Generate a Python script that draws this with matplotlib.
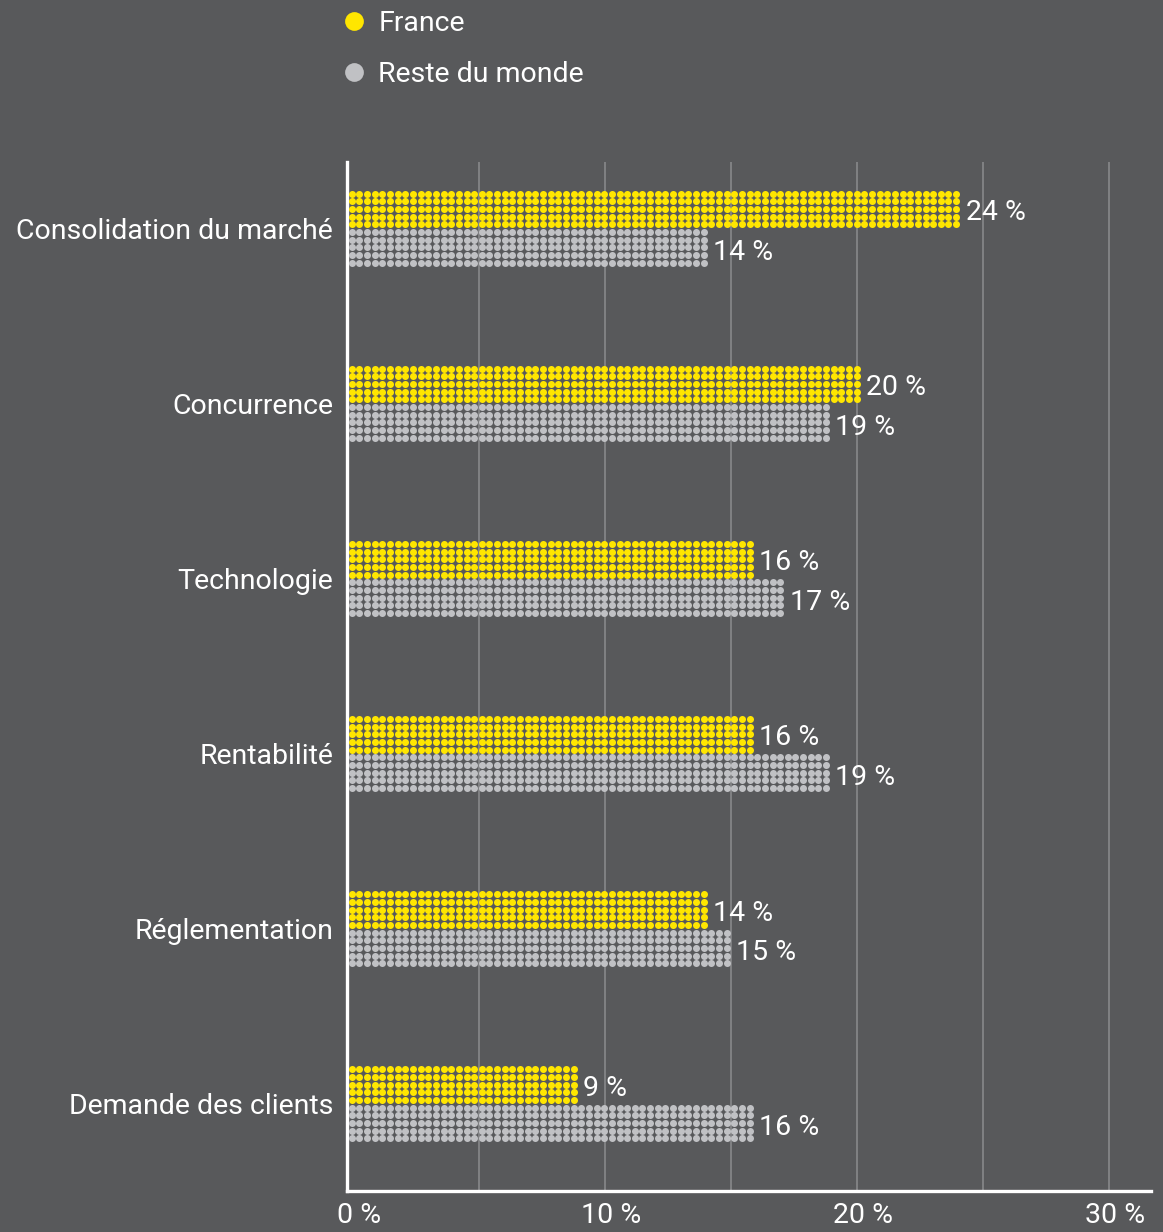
import numpy as np
import matplotlib
matplotlib.use("Agg")
import matplotlib.pyplot as plt
import matplotlib.transforms as mtransforms
from matplotlib.lines import Line2D

plt.rcParams['font.family'] = ['Roboto', 'DejaVu Sans']

# Data
categories = ["Consolidation du marché", "Concurrence", "Technologie",
              "Rentabilité", "Réglementation", "Demande des clients"]
series_names = ["France", "Reste du monde"]
france = [24, 20, 16, 16, 14, 9]
reste_du_monde = [14, 19, 17, 19, 15, 16]
xticks = [0, 10, 20, 30]
xtick_labels = ["0 %", "10 %", "20 %", "30 %"]

BG = "#58595b"
YELLOW = "#ffe600"
GREY_DOT = "#c0c1c4"
GRID = "#8c8d8f"
WHITE = "#ffffff"
FS = 20.5

W, H, DPI = 1163, 1232, 100
fig = plt.figure(figsize=(W / DPI, H / DPI), dpi=DPI, facecolor=BG)

# axes box in pixels: left spine at 347, right end 1151, top 162, bottom 1191
ax_l, ax_r, ax_t, ax_b = 347, 1151, 162, 1191
ax = fig.add_axes([ax_l / W, (H - ax_b) / H, (ax_r - ax_l) / W, (ax_b - ax_t) / H])
ax.set_facecolor(BG)

px_per_pct = 25.2
x0 = -6 / px_per_pct
ax.set_xlim(x0, x0 + (ax_r - ax_l) / px_per_pct)

cat_gap_px = 175.0
ax.set_ylim(len(categories) - 1 + 87 / cat_gap_px, -66 / cat_gap_px)

# dotted bars: square grid of dots, 5 rows per bar
pitch_px = 7.65
dx = pitch_px / px_per_pct
dy = pitch_px / cat_gap_px
dot_size = (7.0 * 72 / DPI) ** 2
start = -0.2

def bar_end(value):
    return start + dx * round((value - start) / dx)

def dotted_bar(y_top, value, color):
    n = int(round((value - start) / dx))
    xs = start + dx * (np.arange(n) + 0.5)
    for r in range(5):
        yr = y_top + dy * (r + 0.5)
        ax.scatter(xs, np.full(n, yr), s=dot_size, color=color,
                   linewidths=0, zorder=3)

bar_h = 5 * dy
for i, cat in enumerate(categories):
    dotted_bar(i - bar_h, france[i], YELLOW)
    dotted_bar(i, reste_du_monde[i], GREY_DOT)
    ax.annotate(f"{france[i]} %", (bar_end(france[i]), i - bar_h / 2),
                xytext=(4, -2.5), textcoords="offset points", va="center", ha="left",
                color=WHITE, fontsize=FS)
    ax.annotate(f"{reste_du_monde[i]} %", (bar_end(reste_du_monde[i]), i + bar_h / 2),
                xytext=(4, -3.5), textcoords="offset points", va="center", ha="left",
                color=WHITE, fontsize=FS)

# vertical gridlines every 5 %
for g in range(5, 31, 5):
    ax.axvline(g, color=GRID, linewidth=1.1, zorder=1)

ax.set_yticks(range(len(categories)))
ax.set_yticklabels(categories, fontsize=FS, color=WHITE)
ax.set_xticks(xticks)
ax.set_xticklabels(xtick_labels, fontsize=FS, color=WHITE)
ax.tick_params(axis="both", length=0)
ax.tick_params(axis="y", pad=10)
ax.tick_params(axis="x", pad=8)
shift = mtransforms.ScaledTranslation(6 / DPI, 0, fig.dpi_scale_trans)
for lbl in ax.get_xticklabels():
    lbl.set_transform(lbl.get_transform() + shift)

for side in ["top", "right"]:
    ax.spines[side].set_visible(False)
for side in ["left", "bottom"]:
    ax.spines[side].set_color(WHITE)
    ax.spines[side].set_linewidth(2.4)

# legend
handles = [Line2D([], [], marker="o", linestyle="none", markersize=13.5,
                  markerfacecolor=c, markeredgewidth=0)
           for c in (YELLOW, GREY_DOT)]
leg = fig.legend(handles, series_names, loc="upper left",
                 bbox_to_anchor=(307 / W, 1 + 16 / H), frameon=False,
                 fontsize=FS, labelcolor=WHITE, handletextpad=0.1,
                 labelspacing=0.84, handlelength=1.5)

fig.savefig("out.png", dpi=DPI, facecolor=BG)
